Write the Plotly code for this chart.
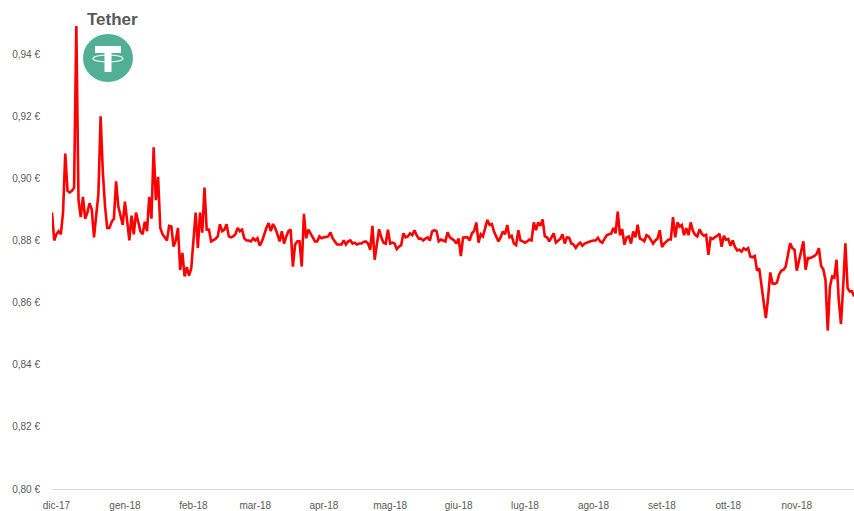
import plotly.graph_objects as go
import pandas as pd

# ---- data ----
start_date = "2017-11-29"
prices = [
    0.889, 0.880, 0.882, 0.883, 0.882, 0.889, 0.908, 0.896, 0.8955, 0.896,
    0.897, 0.949, 0.893, 0.8875, 0.894, 0.887, 0.889, 0.892, 0.890, 0.881,
    0.888, 0.895, 0.920, 0.902, 0.891, 0.884, 0.884, 0.886, 0.887, 0.899,
    0.891, 0.888, 0.885, 0.8925, 0.886, 0.880, 0.888, 0.882, 0.889, 0.886,
    0.883, 0.882, 0.886, 0.883, 0.894, 0.887, 0.910, 0.893, 0.9005, 0.884,
    0.882, 0.881, 0.880, 0.8847, 0.8845, 0.878, 0.880, 0.884, 0.8705, 0.876,
    0.8684, 0.8714, 0.8687, 0.871, 0.881, 0.889, 0.8776, 0.889, 0.8825, 0.897,
    0.8835, 0.8835, 0.8797, 0.880, 0.8805, 0.8813, 0.8852, 0.883, 0.8835, 0.8852,
    0.8813, 0.881, 0.8813, 0.882, 0.884, 0.883, 0.8835, 0.8807, 0.880, 0.880,
    0.8797, 0.8807, 0.880, 0.8807, 0.8783, 0.8797, 0.882, 0.884, 0.8856, 0.883,
    0.8853, 0.884, 0.882, 0.8797, 0.883, 0.879, 0.8813, 0.883, 0.8835, 0.8716,
    0.8787, 0.8797, 0.8797, 0.8716, 0.8886, 0.8807, 0.8835, 0.882, 0.881, 0.8797,
    0.8797, 0.8813, 0.8807, 0.881, 0.8812, 0.8813, 0.8826, 0.8807, 0.8797, 0.8787,
    0.8787, 0.8787, 0.880, 0.8787, 0.8797, 0.880, 0.879, 0.8793, 0.8787, 0.879,
    0.879, 0.8795, 0.8797, 0.879, 0.877, 0.8847, 0.8738, 0.8793, 0.8836, 0.881,
    0.8793, 0.879, 0.8835, 0.879, 0.8793, 0.879, 0.8772, 0.878, 0.8785, 0.8823,
    0.881, 0.8813, 0.8823, 0.8817, 0.8833, 0.8817, 0.8806, 0.8806, 0.880, 0.8806,
    0.881, 0.880, 0.8829, 0.8833, 0.883, 0.8797, 0.8803, 0.880, 0.8797, 0.8826,
    0.881, 0.8805, 0.880, 0.879, 0.8806, 0.875, 0.8809, 0.881, 0.881, 0.880,
    0.8823, 0.883, 0.8858, 0.8793, 0.882, 0.8813, 0.8836, 0.8866, 0.885, 0.8853,
    0.8829, 0.881, 0.8797, 0.881, 0.8829, 0.882, 0.885, 0.881, 0.8815, 0.879,
    0.8785, 0.8833, 0.880, 0.8797, 0.8793, 0.8797, 0.8803, 0.880, 0.8858, 0.8833,
    0.8858, 0.8847, 0.8868, 0.8813, 0.881, 0.8797, 0.881, 0.8823, 0.8793, 0.880,
    0.8806, 0.882, 0.879, 0.881, 0.8809, 0.879, 0.8787, 0.8776, 0.8787, 0.8793,
    0.8783, 0.879, 0.8793, 0.8797, 0.8798, 0.880, 0.880, 0.8809, 0.8797, 0.8793,
    0.8806, 0.8817, 0.882, 0.8822, 0.884, 0.8823, 0.8893, 0.8817, 0.8836, 0.8787,
    0.881, 0.8813, 0.879, 0.8829, 0.881, 0.8851, 0.8806, 0.8803, 0.8797, 0.8817,
    0.8813, 0.880, 0.879, 0.880, 0.8806, 0.8833, 0.8779, 0.879, 0.8797, 0.8803,
    0.8803, 0.8875, 0.881, 0.8858, 0.8845, 0.885, 0.8817, 0.884, 0.8817, 0.8858,
    0.8831, 0.8818, 0.8813, 0.8836, 0.8822, 0.8815, 0.8818, 0.8754, 0.8808, 0.8805,
    0.8811, 0.8815, 0.8822, 0.878, 0.8815, 0.8802, 0.8805, 0.8783, 0.880, 0.878,
    0.8768, 0.877, 0.8764, 0.8775, 0.877, 0.8775, 0.8748, 0.8746, 0.875, 0.8703,
    0.871, 0.8657, 0.8587, 0.855, 0.8614, 0.8697, 0.8662, 0.866, 0.8664, 0.869,
    0.8703, 0.8705, 0.8716, 0.875, 0.8791, 0.8775, 0.877, 0.8703, 0.8732, 0.877,
    0.8797, 0.8706, 0.8743, 0.8743, 0.8746, 0.875, 0.8757, 0.8775, 0.8718, 0.8707,
    0.8673, 0.851, 0.865, 0.8684, 0.868, 0.8738, 0.8608, 0.8531, 0.8652, 0.8791,
    0.8647, 0.8636, 0.8636, 0.862,
]
dates = pd.date_range(start_date, periods=len(prices), freq="D")

x_tick_dates = ["2017-12-01", "2018-01-01", "2018-02-01", "2018-03-01", "2018-04-01",
                "2018-05-01", "2018-06-01", "2018-07-01", "2018-08-01", "2018-09-01",
                "2018-10-01", "2018-11-01"]
x_tick_labels = ["dic-17", "gen-18", "feb-18", "mar-18", "apr-18", "mag-18",
                 "giu-18", "lug-18", "ago-18", "set-18", "ott-18", "nov-18"]
y_tick_vals = [0.80, 0.82, 0.84, 0.86, 0.88, 0.90, 0.92, 0.94]
y_tick_labels = ["0,80 €", "0,82 €", "0,84 €", "0,86 €", "0,88 €", "0,90 €", "0,92 €", "0,94 €"]
title_text = "Tether"

# ---- figure ----
W, H = 854, 511
ML, MR, MT, MB = 52, 0, 23, 22
PW, PH = W - ML - MR, H - MT - MB

def fx(px):
    return (px - ML) / PW

def fy(py):
    return (H - MB - py) / PH

fig = go.Figure()
fig.add_trace(go.Scatter(
    x=dates, y=prices, mode="lines",
    line=dict(color="#FF0000", width=2.6),
    showlegend=False, hoverinfo="x+y", cliponaxis=True,
))

gray = "#595959"
fig.update_layout(
    width=W, height=H,
    margin=dict(l=ML, r=MR, t=MT, b=MB, pad=0, autoexpand=False),
    paper_bgcolor="white", plot_bgcolor="white",
    font=dict(family="Liberation Sans, Arial, sans-serif", size=10, color=gray),
    xaxis=dict(
        range=["2017-11-29 00:00", "2018-11-26 21:30"],
        tickvals=x_tick_dates, ticktext=x_tick_labels,
        showgrid=False, zeroline=False, automargin=False,
        showline=True, linecolor="#D9D9D9", linewidth=1,
        ticks="outside", ticklen=7, tickcolor="rgba(0,0,0,0)",
        tickfont=dict(size=10, color=gray),
    ),
    yaxis=dict(
        range=[0.80, 0.95],
        tickvals=y_tick_vals, ticktext=y_tick_labels,
        showgrid=False, zeroline=False, showline=False, automargin=False,
        ticks="outside", ticklen=9, tickcolor="rgba(0,0,0,0)",
        tickfont=dict(size=10, color=gray),
    ),
)

fig.add_annotation(
    text=f"<b>{title_text}</b>", xref="paper", yref="paper",
    x=fx(112), y=fy(20), xanchor="center", yanchor="middle",
    showarrow=False, font=dict(size=17, color=gray, family="Liberation Sans, Arial, sans-serif"),
)

# Tether logo
green = "#50AF95"
fig.add_shape(type="circle", xref="paper", yref="paper",
              x0=fx(83), x1=fx(133), y0=fy(82), y1=fy(34),
              fillcolor=green, line=dict(width=0))
fig.add_shape(type="rect", xref="paper", yref="paper",
              x0=fx(95), x1=fx(121), y0=fy(53), y1=fy(46),
              fillcolor="white", line=dict(width=0))
fig.add_shape(type="rect", xref="paper", yref="paper",
              x0=fx(104.5), x1=fx(111.5), y0=fy(72), y1=fy(53),
              fillcolor="white", line=dict(width=0))
fig.add_shape(type="circle", xref="paper", yref="paper",
              x0=fx(93), x1=fx(123), y0=fy(62), y1=fy(55),
              fillcolor="rgba(0,0,0,0)", line=dict(color="white", width=1.2))

fig.write_html(
    "out.html",
    config={"displayModeBar": False},
    post_script="document.body.style.margin='0';document.body.style.overflow='hidden';",
)
